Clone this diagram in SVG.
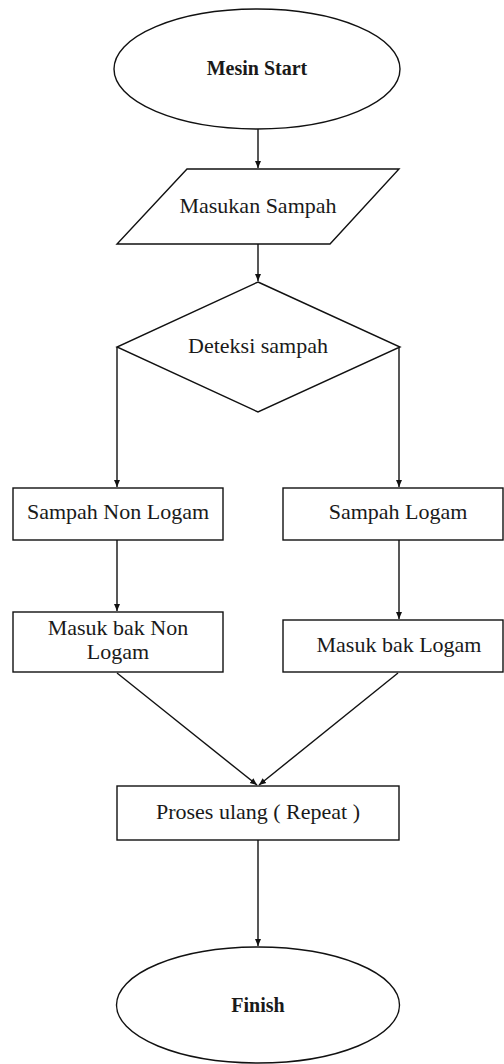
<svg xmlns="http://www.w3.org/2000/svg" width="504" height="1064" viewBox="0 0 504 1064">
<style>
.s{fill:#fff;stroke:#111;stroke-width:1.4}
.t{font-family:"Liberation Serif","Times New Roman",serif;font-size:22px;fill:#1a1a1a;text-anchor:middle}
.b{font-weight:bold;font-size:20px}
.c{fill:none;stroke:#111;stroke-width:1.4}
</style>
<defs>
<marker id="ah" markerWidth="8" markerHeight="8" refX="7" refY="4" orient="auto" markerUnits="userSpaceOnUse">
<path d="M0,1 L7,4 L0,7 Z" fill="#111"/>
</marker>
</defs>
<rect width="504" height="1064" fill="#fff"/>
<g id="connectors">
<line class="c" x1="258" y1="129" x2="258" y2="168" marker-end="url(#ah)"/>
<line class="c" x1="258" y1="244" x2="258" y2="281" marker-end="url(#ah)"/>
<line class="c" x1="117" y1="347" x2="117" y2="487" marker-end="url(#ah)"/>
<line class="c" x1="399" y1="347" x2="399" y2="487" marker-end="url(#ah)"/>
<line class="c" x1="117" y1="540" x2="117" y2="611" marker-end="url(#ah)"/>
<line class="c" x1="399" y1="540" x2="399" y2="619" marker-end="url(#ah)"/>
<line class="c" x1="117" y1="673" x2="257" y2="785" marker-end="url(#ah)"/>
<line class="c" x1="398" y1="673" x2="259" y2="785" marker-end="url(#ah)"/>
<line class="c" x1="258" y1="840" x2="258" y2="946" marker-end="url(#ah)"/>
</g>
<g id="start">
<ellipse class="s" cx="257" cy="69" rx="143" ry="60"/>
<text class="t b" x="257" y="75">Mesin Start</text>
</g>
<g id="input">
<polygon class="s" points="187,169 399,169 330,244 117,244"/>
<text class="t" x="258" y="213">Masukan Sampah</text>
</g>
<g id="decision">
<polygon class="s" points="258,282 400,347 258,412 117,347"/>
<text class="t" x="258" y="353">Deteksi sampah</text>
</g>
<g id="nonlogam">
<rect class="s" x="13" y="488" width="210" height="52"/>
<text class="t" x="118" y="519">Sampah Non Logam</text>
</g>
<g id="logam">
<rect class="s" x="283" y="488" width="220" height="52"/>
<text class="t" x="398" y="519">Sampah Logam</text>
</g>
<g id="baknonlogam">
<rect class="s" x="13" y="612" width="210" height="60"/>
<text class="t" x="118" y="635">Masuk bak Non</text>
<text class="t" x="118" y="659">Logam</text>
</g>
<g id="baklogam">
<rect class="s" x="283" y="620" width="220" height="52"/>
<text class="t" x="399" y="652">Masuk bak Logam</text>
</g>
<g id="repeat">
<rect class="s" x="117" y="786" width="282" height="54"/>
<text class="t" x="258" y="819">Proses ulang ( Repeat )</text>
</g>
<g id="finish">
<ellipse class="s" cx="258" cy="1005" rx="141.5" ry="58"/>
<text class="t b" x="258" y="1012">Finish</text>
</g>
</svg>
